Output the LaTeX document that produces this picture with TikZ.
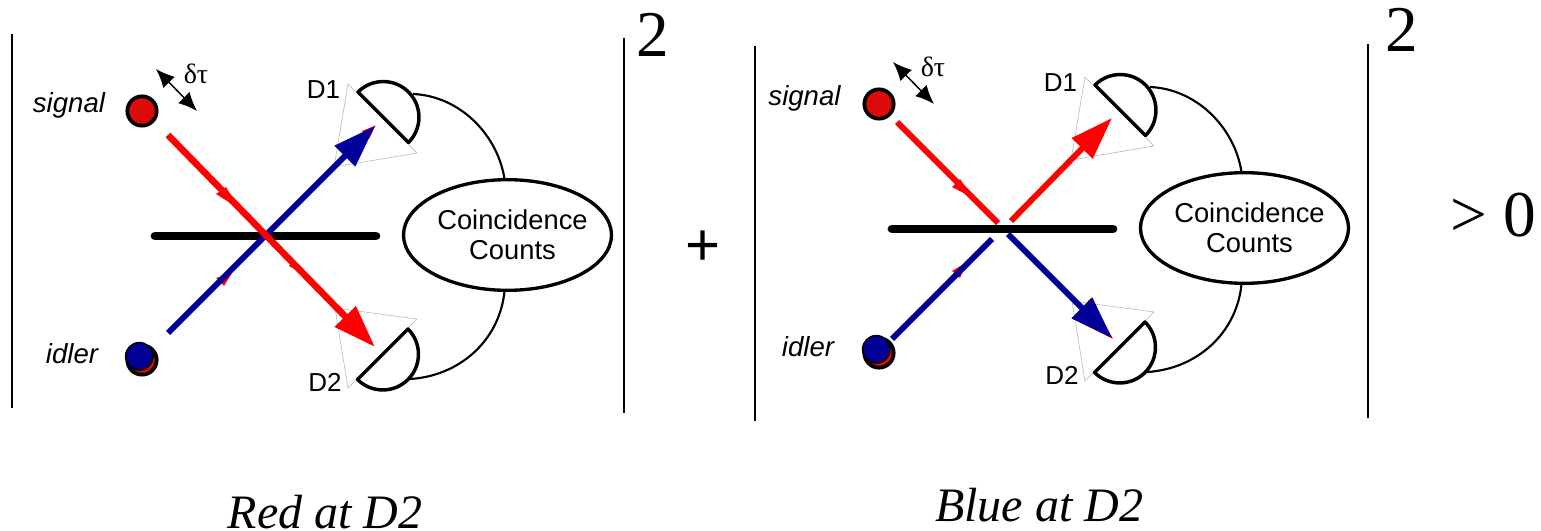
\documentclass[tikz,border=0pt]{standalone}
\usepackage{fontspec}
\setmainfont{Liberation Serif}
\newfontfamily\labelfont{Liberation Sans}
\usetikzlibrary{arrows.meta,shapes.geometric}
\definecolor{beamred}{HTML}{FF0000}
\definecolor{beamblue}{HTML}{000099}
\definecolor{srcred}{HTML}{DD0A0A}
\tikzset{
  x=0.75pt,y=-0.75pt,
  bracket/.style={line width=1.5pt,black},
  bs/.style={line width=6.6pt,line cap=round,black},
  srcdot/.style={circle,draw=black,line width=2.8pt,minimum size=22pt,inner sep=0pt,outer sep=0pt},
  topdot/.style={circle,draw=black,line width=1.2pt,minimum size=20.5pt,inner sep=0pt,outer sep=0pt},
  detector/.style={line width=2.6pt,line join=round,fill=white,draw=black},
  cone/.style={draw=black!30,line width=0.4pt,fill=white},
  wire/.style={line width=1.6pt,black},
  beam/.style={line width=4.4pt,-{Triangle[length=32pt,width=21pt]}},
  plainbeam/.style={line width=4.4pt},
  delay/.style={line width=1.1pt,{Latex[length=14pt,width=12pt]}-{Latex[length=14pt,width=12pt]}},
  sans/.style={font=\labelfont\fontsize{19.5}{19.5}\selectfont,inner sep=0pt,anchor=base},
  ctext/.style={font=\labelfont\fontsize{20.5}{20.5}\selectfont,inner sep=0pt,anchor=center,align=center},
  ital/.style={font=\labelfont\itshape\fontsize{20.7}{20.7}\selectfont,inner sep=0pt,anchor=base},
  delta/.style={font=\fontsize{21}{21}\selectfont,inner sep=0pt},
  big/.style={font=\fontsize{49}{49}\selectfont,inner sep=0pt,anchor=base},
  caption/.style={font=\itshape\fontsize{36}{36}\selectfont,inner sep=0pt,anchor=base},
  counter/.style={ellipse,draw=black,line width=2.5pt,minimum width=156pt,minimum height=83pt,inner sep=0pt,outer sep=0pt},
}
% common apparatus of one panel; #1 = name prefix
\newcommand{\apparatus}[1]{
  \draw[cone] (348,84) -- (417,153) -- (334,167) -- cycle;
  \draw[cone] (348,388) -- (417,319) -- (335,308) -- cycle;
  \draw[detector] (358,92) coordinate (#1da) arc[start angle=225,end angle=405,radius=35.7] -- cycle;
  \draw[detector] (408,329) coordinate (#1db) arc[start angle=315,end angle=495,radius=35.7] -- cycle;
  \coordinate (#1wa) at (413,94);
  \coordinate (#1wb) at (410,379);
  \node[counter] (#1cc) at (507.5,235) {};
  \node[ctext] (#1cct) at (512.5,235) {Coincidence\\[2pt]Counts};
  \draw[wire] (#1wa) .. controls (460,96) and (498,135) .. (#1cc.93);
  \draw[wire] (#1wb) .. controls (460,376) and (500,340) .. (#1cc.267);
  \node[srcdot,fill=srcred] (#1sig) at (142,111) {};
  \node[srcdot,fill=srcred] (#1idb) at (142,360) {};
  \node[topdot,fill=beamblue] (#1ida) at (139.3,356.3) {};
  \coordinate (#1dla) at (156,69);
  \coordinate (#1dlb) at (197,111);
  \draw[delay] (#1dla) -- (#1dlb);
  \node[delta] (#1dt) at (196,74) {δτ};
  \node[sans] (#1dn) at (323.5,99) {D1};
  \node[sans] (#1dm) at (325,391) {D2};
}
\begin{document}
\begin{tikzpicture}
\useasboundingbox (0,0) rectangle (1541,531);
% ---- left panel
\coordinate (la) at (12,34); \coordinate (lb) at (12,408);
\coordinate (lc) at (624,38); \coordinate (ld) at (624,413);
\draw[bracket] (la) -- (lb);
\draw[bracket] (lc) -- (ld);
\apparatus{L}
\node[ital] (Lsg) at (69,113) {signal};
\node[ital] (Lid) at (72,363) {idler};
\coordinate (Lbsa) at (155,236); \coordinate (Lbsb) at (376,236);
\draw[bs] (Lbsa) -- (Lbsb);
\fill[beamred] (216,278) -- (232,273) -- (224,286) -- cycle;
\fill[beamred] (375.5,125.5) -- (362,131) -- (369,139) -- cycle;
\coordinate (Lbi) at (168,333); \coordinate (Lbo) at (375,126);
\draw[beam,beamblue] (Lbi) -- (Lbo);
\fill[beamred] (226,187) -- (216,194) -- (238,208) -- cycle;
\fill[beamred] (292,262) -- (289,266) -- (300,272) -- cycle;
\coordinate (Lri) at (168,135); \coordinate (Lro) at (375,347);
\draw[beam,beamred,line width=5pt] (Lri) -- (Lro);
\node[big] (Lsq) at (652.5,57) {2};
\node[caption] (Lcap) at (325,528) {Red at D2};
\node[big,font=\labelfont\fontsize{45}{45}\selectfont] (plus) at (703,265) {+};
% ---- right panel
\coordinate (ra) at (755,46); \coordinate (rb) at (755,421);
\coordinate (rc) at (1368,44); \coordinate (rd) at (1368,418);
\draw[bracket] (ra) -- (rb);
\draw[bracket] (rc) -- (rd);
\begin{scope}[shift={(737,-7)}]
\apparatus{R}
\coordinate (Rbsa) at (155,236); \coordinate (Rbsb) at (376,236);
\draw[bs] (Rbsa) -- (Rbsb);
\end{scope}
\node[ital] (Rsg) at (804.5,106) {signal};
\node[ital] (Rid) at (808,356) {idler};
\fill[beamred] (952,271) -- (967,262) -- (960,278) -- cycle;
\coordinate (Rbi) at (892,339); \coordinate (Rbj) at (992,239);
\draw[plainbeam,beamblue] (Rbi) -- (Rbj);
\fill[beamred] (1113,339) -- (1072,318.5) -- (1091,298) -- cycle;
\coordinate (Rbk) at (1008,234); \coordinate (Rbo) at (1112,338);
\draw[beam,beamblue] (Rbk) -- (Rbo);
\fill[beamred] (960,179) -- (952,187) -- (973,198) -- cycle;
\coordinate (Rri) at (897,122); \coordinate (Rrj) at (998,223);
\draw[plainbeam,beamred] (Rri) -- (Rrj);
\coordinate (Rrk) at (1011,221); \coordinate (Rro) at (1112,118);
\draw[beam,beamred] (Rrk) -- (Rro);
\node[big] (Rsq) at (1401.5,52) {2};
\node[caption] (Rcap) at (1039,521) {Blue at D2};
\node[big] (gt) at (1493,236) {> 0};
\end{tikzpicture}
\end{document}
